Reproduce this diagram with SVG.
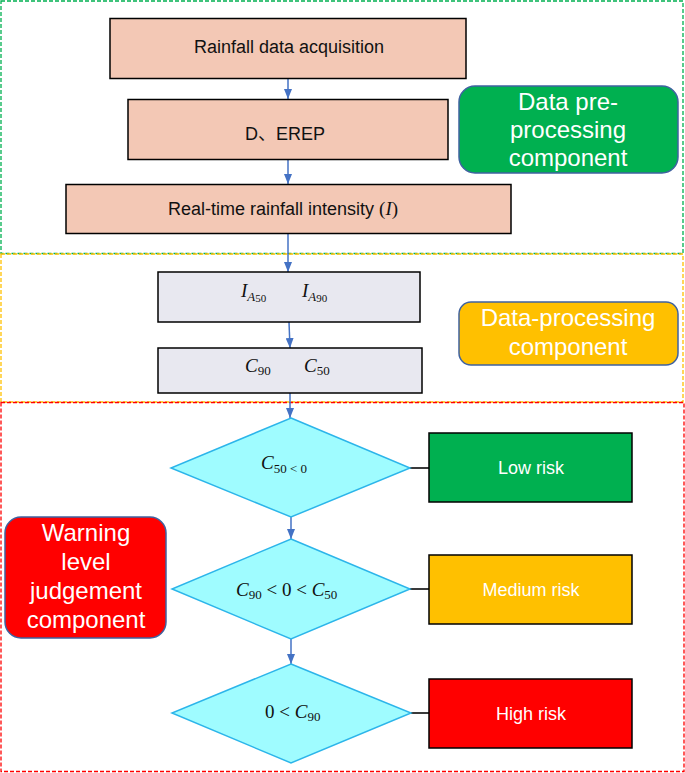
<svg xmlns="http://www.w3.org/2000/svg" width="685" height="773" viewBox="0 0 685 773">
<style>
.region{fill:none;stroke-width:1.3;stroke-dasharray:4 2}
.box{stroke:#000;stroke-width:1.5}
.pink{fill:#F3C8B5}
.gray{fill:#E8E8F0}
.dia{fill:#9FFCFF;stroke:#2CB5EA;stroke-width:1.5}
.txt{font-family:"Liberation Sans",Arial,sans-serif;font-size:18px;fill:#111;text-anchor:middle}
.wt{font-family:"Liberation Sans",Arial,sans-serif;fill:#fff;text-anchor:middle}
.lab{stroke:#3F62A0;stroke-width:1.5}
.math{font-family:"Liberation Serif","DejaVu Serif",serif;font-size:19px;fill:#111}
.mi{font-style:italic}
.sub{font-size:13px}
.arrow{stroke:#4472C4;stroke-width:1.5;fill:none;marker-end:url(#ah)}
.link{stroke:#3A3A3A;stroke-width:2}
</style>
<defs>
<marker id="ah" viewBox="0 0 10 8" refX="10" refY="4" markerWidth="10" markerHeight="8" markerUnits="userSpaceOnUse" orient="auto">
<path d="M0,0 L10,4 L0,8 z" fill="#4472C4"/>
</marker>
</defs>

<g id="regions">
<rect class="region" x="1" y="1" width="682" height="252.5" stroke="#00B050"/>
<rect class="region" x="1" y="254" width="682" height="148" stroke="#FFC000"/>
<rect class="region" x="1" y="402.5" width="683" height="369" stroke="#FF0000"/>
</g>

<g id="connectors">
<line class="arrow" x1="288" y1="78" x2="288" y2="99"/>
<line class="arrow" x1="288" y1="159" x2="288" y2="184"/>
<line class="arrow" x1="288" y1="233" x2="288" y2="272"/>
<line class="arrow" x1="289" y1="322" x2="290" y2="348"/>
<line class="arrow" x1="290" y1="393" x2="290" y2="418"/>
<line class="arrow" x1="291" y1="517" x2="291" y2="539"/>
<line class="arrow" x1="291" y1="639" x2="291" y2="664"/>
<line class="link" x1="410" y1="468" x2="429" y2="468"/>
<line class="link" x1="410" y1="589" x2="429" y2="589"/>
<line class="link" x1="411" y1="713" x2="429" y2="713"/>
</g>

<g id="n-acquisition">
<rect class="box pink" x="110" y="18.5" width="356" height="60"/>
<text class="txt" x="289" y="53">Rainfall data acquisition</text>
</g>
<g id="n-derep">
<rect class="box pink" x="128" y="99.5" width="320" height="60"/>
<text class="txt" x="285" y="140">D<tspan font-family="'Noto Sans CJK SC',sans-serif">、</tspan>EREP</text>
</g>
<g id="n-intensity">
<rect class="box pink" x="66" y="184.5" width="445" height="49"/>
<text class="txt" x="283" y="215">Real-time rainfall intensity <tspan font-family="'Liberation Serif',serif" font-size="19">(<tspan font-style="italic">I</tspan>)</tspan></text>
</g>

<g id="n-ia">
<rect class="box gray" x="158" y="272" width="262" height="50"/>
<text class="math" x="241" y="297"><tspan class="mi">I</tspan><tspan class="sub mi" dy="4">A</tspan><tspan font-size="11" dy="1">50</tspan></text>
<text class="math" x="302" y="297"><tspan class="mi">I</tspan><tspan class="sub mi" dy="4">A</tspan><tspan font-size="11" dy="1">90</tspan></text>
</g>
<g id="n-c">
<rect class="box gray" x="158" y="348" width="264" height="45"/>
<text class="math" x="245" y="372"><tspan class="mi">C</tspan><tspan class="sub" dy="3">90</tspan></text>
<text class="math" x="304" y="372"><tspan class="mi">C</tspan><tspan class="sub" dy="3">50</tspan></text>
</g>

<g id="n-d1">
<polygon class="dia" points="291,418 410,468 291,517 171,468"/>
<text class="math" x="261" y="469"><tspan class="mi">C</tspan><tspan class="sub" dy="4">50 &lt; 0</tspan></text>
</g>
<g id="n-d2">
<polygon class="dia" points="291,539 410,589 291,639 172,589"/>
<text class="math" x="236" y="596"><tspan class="mi">C</tspan><tspan class="sub" dy="3">90</tspan><tspan dy="-3"> &lt; 0 &lt; </tspan><tspan class="mi">C</tspan><tspan class="sub" dy="3">50</tspan></text>
</g>
<g id="n-d3">
<polygon class="dia" points="291,664 411,713 291,763 172,713"/>
<text class="math" x="265" y="718">0 &lt; <tspan class="mi">C</tspan><tspan class="sub" dy="3">90</tspan></text>
</g>

<g id="n-low">
<rect class="box" x="429" y="433" width="203" height="69" fill="#00B050" stroke="#333"/>
<text class="wt" x="531" y="474" font-size="18">Low risk</text>
</g>
<g id="n-medium">
<rect class="box" x="429" y="555" width="203" height="69" fill="#FFC000" stroke="#333"/>
<text class="wt" x="531" y="596" font-size="18">Medium risk</text>
</g>
<g id="n-high">
<rect class="box" x="429" y="679" width="203" height="69" fill="#FF0000" stroke="#333"/>
<text class="wt" x="531" y="720" font-size="18">High risk</text>
</g>

<g id="lbl-preprocessing">
<rect class="lab" x="459" y="86" width="219" height="87" rx="16" fill="#00B050"/>
<text class="wt" x="568" y="110" font-size="24">Data pre-</text>
<text class="wt" x="568" y="138" font-size="24">processing</text>
<text class="wt" x="568" y="166" font-size="24">component</text>
</g>
<g id="lbl-processing">
<rect class="lab" x="459" y="302" width="219" height="63" rx="12" fill="#FFC000"/>
<text class="wt" x="568" y="326" font-size="24">Data-processing</text>
<text class="wt" x="568" y="355" font-size="24">component</text>
</g>
<g id="lbl-warning">
<rect class="lab" x="5" y="517" width="161" height="121" rx="16" fill="#FF0000"/>
<text class="wt" x="86" y="541" font-size="24">Warning</text>
<text class="wt" x="86" y="570" font-size="24">level</text>
<text class="wt" x="86" y="599" font-size="24">judgement</text>
<text class="wt" x="86" y="628" font-size="24">component</text>
</g>
</svg>
